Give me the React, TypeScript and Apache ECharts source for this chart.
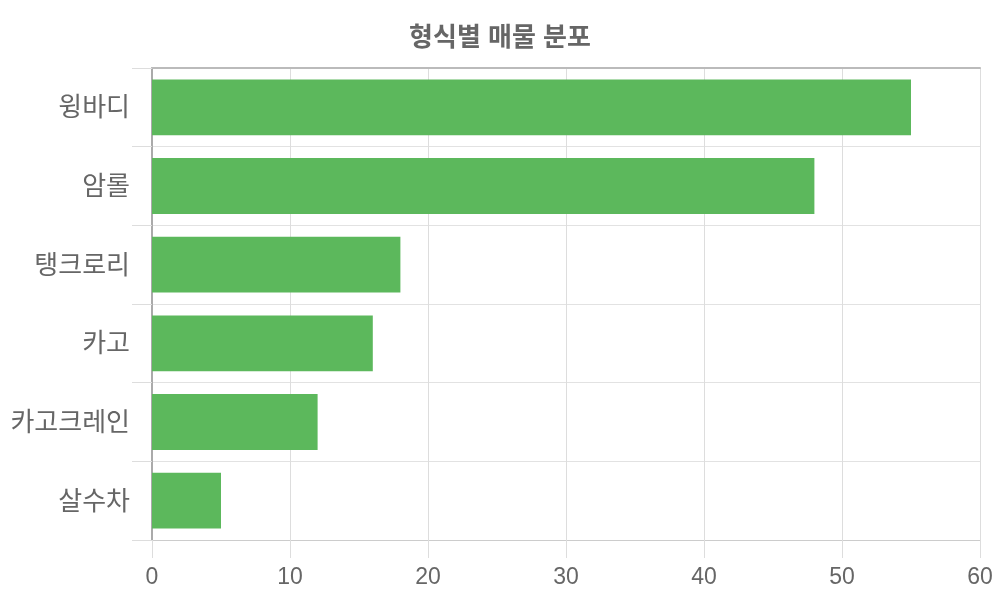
import React, { useEffect, useRef } from "react";
import * as echarts from "echarts";

const categories = ["윙바디", "암롤", "탱크로리", "카고", "카고크레인", "살수차"];
const values = [55, 48, 18, 16, 12, 5];
const titleText = "형식별 매물 분포";

const FONT = "'Liberation Sans', 'Noto Sans CJK KR', sans-serif";

export default function App() {
  const ref = useRef<HTMLDivElement>(null);
  useEffect(() => {
    if (!ref.current) return;
    const chart = echarts.init(ref.current, undefined, { renderer: "svg" });
    chart.setOption({
      animation: false,
      textStyle: { fontFamily: FONT },
      title: {
        text: titleText,
        left: "center",
        top: 19,
        textStyle: { fontFamily: FONT, fontSize: 26, fontWeight: "bold", color: "#666" },
      },
      grid: { left: 152, right: 20, top: 68, bottom: 60, containLabel: false },
      xAxis: [
        {
          type: "value",
          min: 0,
          max: 60,
          interval: 10,
          axisLine: { show: true, lineStyle: { color: "#ccc", width: 1 } },
          axisTick: { show: true, length: 18, lineStyle: { color: "#ddd" } },
          splitLine: { show: true, lineStyle: { color: "#ddd", width: 1 } },
          axisLabel: { fontFamily: FONT, fontSize: 23, color: "#666", margin: 24 },
        },
        {
          type: "value",
          position: "top",
          min: 0,
          max: 60,
          interval: 10,
          axisLine: { show: true, lineStyle: { color: "#bbb", width: 2 } },
          axisTick: { show: false },
          splitLine: { show: false },
          axisLabel: { show: false },
        },
      ],
      yAxis: {
        type: "category",
        data: categories,
        inverse: true,
        axisLine: { show: true, lineStyle: { color: "#aaa", width: 2 } },
        axisTick: { show: true, length: 20, lineStyle: { color: "#ddd" } },
        splitLine: { show: true, lineStyle: { color: "#e2e2e2", width: 1 } },
        axisLabel: { fontFamily: FONT, fontSize: 26, color: "#666", margin: 22 },
      },
      series: [
        {
          type: "bar",
          data: values,
          barCategoryGap: "29%",
          itemStyle: { color: "#5cb85c" },
          z: 3,
        },
      ],
    });
    return () => chart.dispose();
  }, []);
  return (
    <div
      ref={ref}
      style={{ position: "fixed", left: 0, top: 0, width: 1000, height: 600 }}
    />
  );
}
